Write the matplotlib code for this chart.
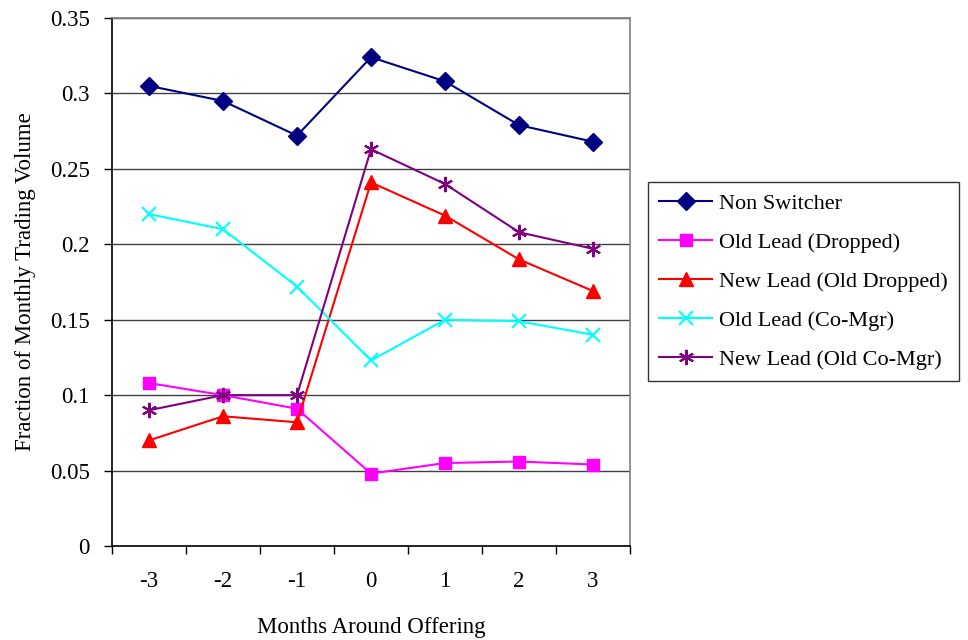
import matplotlib
matplotlib.use("Agg")
import matplotlib.pyplot as plt
from matplotlib.ticker import FixedLocator, NullFormatter, FixedFormatter

plt.rcParams['font.family'] = ['Liberation Serif', 'DejaVu Serif']

months = [-3, -2, -1, 0, 1, 2, 3]
month_labels = ["-3", "-2", "-1", "0", "1", "2", "3"]

non_switcher = [0.305, 0.295, 0.272, 0.324, 0.308, 0.279, 0.268]
old_lead_dropped = [0.108, 0.100, 0.091, 0.048, 0.055, 0.056, 0.054]
new_lead_old_dropped = [0.070, 0.086, 0.082, 0.241, 0.219, 0.190, 0.169]
old_lead_comgr = [0.220, 0.210, 0.172, 0.123, 0.150, 0.149, 0.140]
new_lead_old_comgr = [0.090, 0.100, 0.100, 0.263, 0.240, 0.208, 0.197]

series = [
    ("Non Switcher", non_switcher, "#000080", "D", 9.5),
    ("Old Lead (Dropped)", old_lead_dropped, "#FF00FF", "s", 8.5),
    ("New Lead (Old Dropped)", new_lead_old_dropped, "#FF0000", "^", 10),
    ("Old Lead (Co-Mgr)", old_lead_comgr, "#00FFFF", "x", 10),
    ("New Lead (Old Co-Mgr)", new_lead_old_comgr, "#800080", (6, 2, 0), 11),
]

fig = plt.figure(figsize=(9.68, 6.4), dpi=100)
ax = fig.add_axes([112 / 968, 1 - 546 / 640, 518 / 968, 528 / 640])

for label, vals, color, marker, ms in series:
    kw = dict(color=color, marker=marker, markersize=ms, linewidth=1.5, label=label)
    if marker == "x" or isinstance(marker, tuple):
        kw.update(markeredgewidth=1.5)
    ax.plot(months, vals, **kw)

ax.set_xlim(-3.5, 3.5)
ax.set_ylim(0, 0.35)

yt = [0, 0.05, 0.1, 0.15, 0.2, 0.25, 0.3, 0.35]
ax.set_yticks(yt)
ax.set_yticklabels(["0", "0.05", "0.1", "0.15", "0.2", "0.25", "0.3", "0.35"], fontsize=16.5)
ax.yaxis.grid(True, color="#404040", linewidth=1.0)
ax.set_axisbelow(True)

ax.xaxis.set_major_locator(FixedLocator([m + 0.5 for m in [-4] + months]))
ax.xaxis.set_major_formatter(NullFormatter())
ax.xaxis.set_minor_locator(FixedLocator(months))
ax.xaxis.set_minor_formatter(FixedFormatter(month_labels))
ax.tick_params(axis="x", which="major", direction="out", length=6, width=1, color="black")
ax.tick_params(axis="x", which="minor", length=0, pad=18, labelsize=16.5)
ax.tick_params(axis="y", direction="out", length=6, width=1, pad=10)

for side in ("left", "bottom"):
    ax.spines[side].set_color("black")
    ax.spines[side].set_linewidth(1.2)
for side in ("top", "right"):
    ax.spines[side].set_color("#808080")
    ax.spines[side].set_linewidth(1.2)

ax.set_xlabel("Months Around Offering", fontsize=16.5, labelpad=18)
ax.set_ylabel("Fraction of Monthly Trading Volume", fontsize=16.5, labelpad=10)

leg = fig.legend(loc="upper left", bbox_to_anchor=(648 / 968, 1 - 182 / 640),
                 fontsize=16, frameon=True, fancybox=False, edgecolor="black",
                 handlelength=2.4, handletextpad=0.3, borderpad=0.5,
                 labelspacing=0.83, borderaxespad=0)
leg.get_frame().set_linewidth(1.0)

fig.savefig("out.png", dpi=100)
